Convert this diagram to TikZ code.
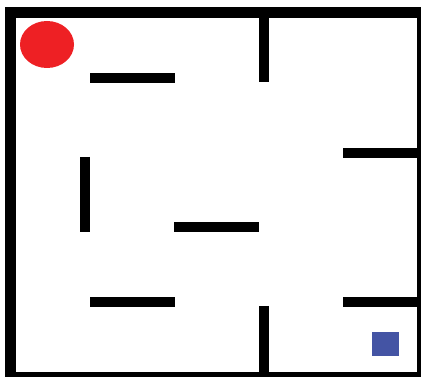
\documentclass[tikz,border=0pt]{standalone}
\usetikzlibrary{shapes.geometric}

\definecolor{ballred}{HTML}{EE2024}
\definecolor{goalblue}{HTML}{4454A4}

\tikzset{
    wall/.style={line width=9.5pt, line cap=butt},
    border/.style={line width=10.5pt}
}

\begin{document}
\begin{tikzpicture}[x=1pt, y=-1pt]
    \useasboundingbox (0,0) rectangle (421,377);
    \clip (0,0) rectangle (421,377);

    \draw[border] (10.5,12.5) rectangle (422,377);

    \draw[wall] (264,17) -- (264,82);
    \draw[wall] (90,78) -- (175,78);
    \draw[wall] (343,153) -- (417,153);
    \draw[wall] (85,157) -- (85,232);
    \draw[wall] (174,227) -- (259,227);
    \draw[wall] (90,302) -- (175,302);
    \draw[wall] (343,302) -- (417,302);
    \draw[wall] (264,306) -- (264,372);

    \node[ellipse, fill=ballred, minimum width=54pt, minimum height=47pt, inner sep=0pt] (ball) at (47,44.5) {};
    \node[rectangle, fill=goalblue, minimum width=27pt, minimum height=24pt, inner sep=0pt] (goal) at (385.5,344) {};
\end{tikzpicture}
\end{document}
